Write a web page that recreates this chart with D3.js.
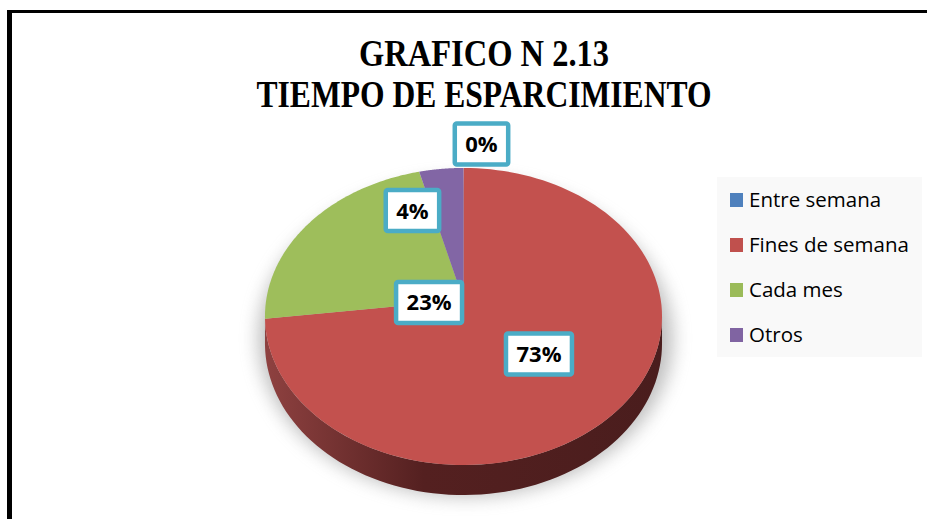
<!DOCTYPE html>
<html>
<head>
<meta charset="utf-8">
<script src="https://cdn.jsdelivr.net/npm/d3@7"></script>
<style>
  body { margin: 0; background: #fff; }
  svg { display: block; }
</style>
</head>
<body>
<svg width="927" height="519"></svg>
<script>
const categories = ['Entre semana', 'Fines de semana', 'Cada mes', 'Otros']
const values = [0, 73, 23, 4]
const colors = ['#4F81BD', '#C0504D', '#9BBB59', '#8064A2']
const titleLines = ['GRAFICO N 2.13', 'TIEMPO DE ESPARCIMIENTO']

// where Excel dropped each data label: radius (fraction of pie) and angle nudge (deg)
const labelRadius = [1.21, 0.51, 0.175, 0.71]
const labelShift = [4.9, 2.5, -39.8, -15.8]

const svg = d3.select('svg')
const width = +svg.attr('width')
const height = +svg.attr('height')

// perspective disc: x = cx + A*X/w, y = cy - B*Z/w, w = 1 + p*Z
const cx = 463.5
const cy = 300
const A = 197.3
const B = 146.7
const p = 0.111
const depth = 26.7

const proj = (r, a) => {
  const X = r * Math.sin(a)
  const Z = r * Math.cos(a)
  const w = 1 + p * Z
  return [cx + A * X / w, cy - B * Z / w, w]
}

const defs = svg.append('defs')

defs.append('filter')
  .attr('id', 'blur')
  .attr('x', '-20%').attr('y', '-20%')
  .attr('width', '140%').attr('height', '140%')
  .append('feGaussianBlur')
  .attr('stdDeviation', 9)

const sideGrad = defs.append('linearGradient')
  .attr('id', 'side')
  .attr('gradientUnits', 'userSpaceOnUse')
  .attr('x1', cx - A).attr('x2', cx + A)
  .attr('y1', 0).attr('y2', 0)
sideGrad.append('stop').attr('offset', '0%').attr('stop-color', '#8e4140')
sideGrad.append('stop').attr('offset', '40%').attr('stop-color', '#542020')
sideGrad.append('stop').attr('offset', '100%').attr('stop-color', '#4a1d1d')

// frame
svg.append('rect')
  .attr('x', 7).attr('y', 10)
  .attr('width', width).attr('height', 3)
  .attr('fill', '#000')
svg.append('rect')
  .attr('x', 7).attr('y', 10)
  .attr('width', 5).attr('height', height)
  .attr('fill', '#000')

// title
const title = svg.append('g')
  .attr('font-family', '"Liberation Serif", "Times New Roman", serif')
  .attr('font-weight', 'bold')
  .attr('font-size', 37)
  .attr('text-anchor', 'middle')

title.selectAll('text')
  .data(titleLines)
  .join('text')
  .attr('x', 484)
  .attr('y', (d, i) => 66 + i * 41)
  .attr('textLength', (d, i) => i === 0 ? 250 : 455)
  .attr('lengthAdjust', 'spacingAndGlyphs')
  .text(d => d)

// pie
const data = categories.map((c, i) => ({ name: c, value: values[i], color: colors[i] }))
const total = d3.sum(values)

const arcs = d3.pie()
  .sort(null)
  .value(d => d.value)(data)

const line = d3.line()
const sample = (a0, a1, n) => d3.range(0, n + 1).map(k => a0 + (a1 - a0) * k / n)

// soft shadow under the disc
svg.append('ellipse')
  .attr('cx', cx + 2)
  .attr('cy', 338)
  .attr('rx', A + 10)
  .attr('ry', B + 12)
  .attr('fill', '#8a8a8a')
  .attr('opacity', 0.55)
  .attr('filter', 'url(#blur)')

// visible side walls (front half only)
const frontStart = Math.PI / 2 + Math.asin(p)
const frontEnd = Math.PI * 3 / 2 - Math.asin(p)
const sides = svg.append('g')
arcs.forEach(d => {
  const a0 = Math.max(d.startAngle, frontStart)
  const a1 = Math.min(d.endAngle, frontEnd)
  if (a1 <= a0) return
  const steps = sample(a0, a1, 80)
  const top = steps.map(a => proj(1, a).slice(0, 2))
  const bottom = steps.slice().reverse().map(a => {
    const [x, y, w] = proj(1, a)
    return [x, y + depth / w]
  })
  sides.append('path')
    .attr('d', line(top.concat(bottom)) + 'Z')
    .attr('fill', d.data.value === d3.max(values) ? 'url(#side)' : d3.color(d.data.color).darker(1.6))
})

// top face
svg.append('g')
  .selectAll('path')
  .data(arcs.filter(d => d.value > 0))
  .join('path')
  .attr('d', d => {
    const pts = sample(d.startAngle, d.endAngle, 120).map(a => proj(1, a).slice(0, 2))
    return line([[cx, cy]].concat(pts)) + 'Z'
  })
  .attr('fill', d => d3.color(d.data.color).brighter(0.05))

// data labels
const fmt = d3.format('.0%')
const labels = svg.append('g')
  .attr('font-family', '"Open Sans", sans-serif')
  .attr('font-weight', 'bold')
  .attr('font-size', 22)

arcs.forEach((d, i) => {
  const a = (d.startAngle + d.endAngle) / 2 + labelShift[i] * Math.PI / 180
  const [lx, ly] = proj(labelRadius[i], a)
  const g = labels.append('g').attr('transform', `translate(${lx},${ly})`)
  const box = g.append('rect')
  const t = g.append('text')
    .attr('text-anchor', 'middle')
    .attr('dy', '0.36em')
    .attr('fill', '#000')
    .text(fmt(d.data.value / total))
  const w = t.node().getComputedTextLength() + 21
  const h = 41
  box.attr('x', -w / 2).attr('y', -h / 2)
    .attr('width', w).attr('height', h)
    .attr('rx', 2)
    .attr('fill', '#fff')
    .attr('stroke', '#4BACC6')
    .attr('stroke-width', 4.5)
})

// legend
const legend = svg.append('g')
legend.append('rect')
  .attr('x', 717).attr('y', 177)
  .attr('width', 205).attr('height', 180)
  .attr('fill', '#f9f9f9')

const rows = legend.selectAll('g.row')
  .data(data)
  .join('g')
  .attr('class', 'row')
  .attr('transform', (d, i) => `translate(730, ${200 + i * 45})`)

rows.append('rect')
  .attr('x', 0).attr('y', -7)
  .attr('width', 13).attr('height', 14)
  .attr('fill', d => d.color)

rows.append('text')
  .attr('x', 19)
  .attr('dy', '0.36em')
  .attr('font-family', '"Open Sans", sans-serif')
  .attr('font-size', 20.5)
  .attr('fill', '#000')
  .text(d => d.name)
</script>
</body>
</html>
